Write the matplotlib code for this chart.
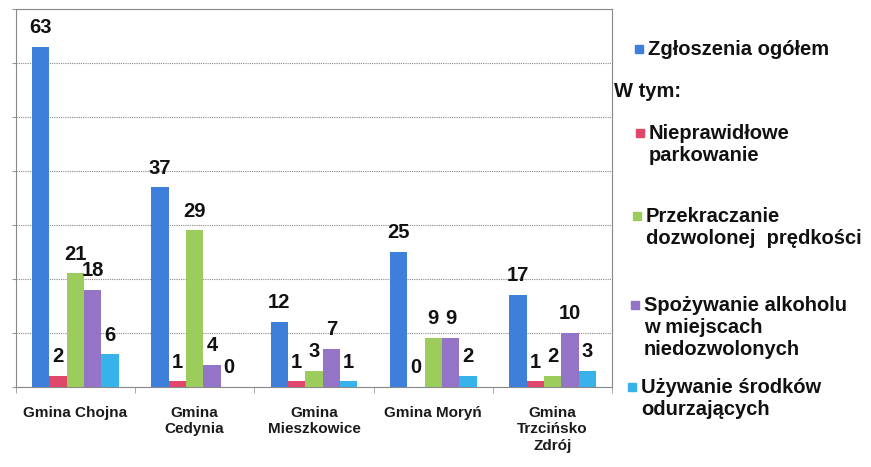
import matplotlib
matplotlib.use("Agg")
import matplotlib.pyplot as plt
import numpy as np
from matplotlib.patches import Rectangle

plt.rcParams['font.family'] = ['Liberation Sans', 'DejaVu Sans']

categories = ["Gmina Chojna", "Gmina\nCedynia", "Gmina\nMieszkowice", "Gmina Moryń", "Gmina\nTrzcińsko\nZdrój"]
series_names = ["Zgłoszenia ogółem", "Nieprawidłowe\nparkowanie", "Przekraczanie\ndozwolonej  prędkości",
                "Spożywanie alkoholu\nw miejscach\nniedozwolonych", "Używanie środków\nodurzających"]
total = [63, 37, 12, 25, 17]
parking = [2, 1, 1, 0, 1]
speeding = [21, 29, 3, 9, 2]
alcohol = [18, 4, 7, 9, 10]
drugs = [6, 0, 1, 2, 3]
values = [total, parking, speeding, alcohol, drugs]
colors = ["#3f7fdc", "#e0476b", "#9ccc5c", "#9474c6", "#38b2ea"]

fig = plt.figure(figsize=(8.71, 4.67), dpi=100)
ax = fig.add_axes([0.018, 0.172, 0.685, 0.808])

n = len(values)
x = np.arange(len(categories))
w = 0.145
for i, (vals, c) in enumerate(zip(values, colors)):
    off = (i - (n - 1) / 2) * w
    bars = ax.bar(x + off, vals, width=w, color=c, zorder=3)
    ax.bar_label(bars, labels=[str(v) for v in vals], padding=7,
                 fontsize=14.5, fontweight='bold', color='#111111')

ax.set_xlim(-0.5, len(categories) - 0.5)
ax.set_ylim(0, 70)
ax.set_yticks(np.arange(0, 71, 10))
ax.set_yticklabels([])
ax.tick_params(axis='y', length=3, color='#999999')
ax.yaxis.grid(True, linestyle=(0, (1, 1)), color='#888888', linewidth=0.8, zorder=0)
for s in ax.spines.values():
    s.set_linestyle((0, (1, 1)))
    s.set_color('#888888')
    s.set_linewidth(0.8)

ax.set_xticks(x)
ax.set_xticklabels(categories, fontsize=11, fontweight='bold', color='#1a1a1a', linespacing=1.2)
ax.tick_params(axis='x', length=0, pad=14)
ax.set_xticks(np.arange(-0.5, len(categories), 1.0), minor=True)
ax.tick_params(axis='x', which='minor', length=4, color='#999999')

# legend
leg_font = 14.5
items = [
    (0, 40, 648),
    (1, 124, 649),
    (2, 207, 646),
    (3, 296, 644),
    (4, 378, 641),
]
H = 467.0
W = 871.0
for idx, ypix, xpix in items:
    fig.text(xpix / W, 1 - ypix / H, series_names[idx], fontsize=leg_font, va='top',
             ha='left', color='#111111', linespacing=1.2, fontweight='bold',
             transform=fig.transFigure)
    sq = Rectangle(((xpix - 13) / W, 1 - (ypix + 13) / H), 8 / W, 8 / H,
                   transform=fig.transFigure, color=colors[idx], figure=fig)
    fig.patches.append(sq)
fig.text(614 / W, 1 - 82 / H, "W tym:", fontsize=leg_font, va='top', ha='left',
         color='#111111', fontweight='bold')

fig.savefig("out.png", dpi=100)
